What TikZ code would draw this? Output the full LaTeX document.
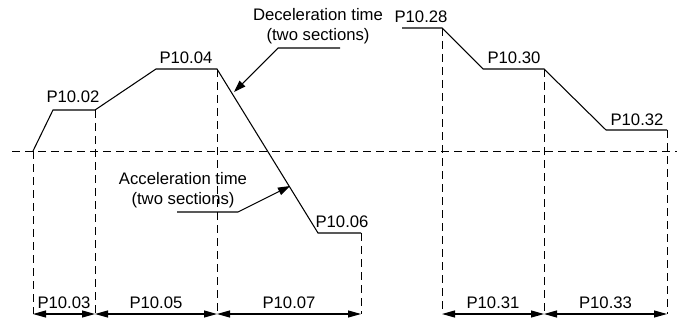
\documentclass[tikz,border=0pt]{standalone}
\usepackage{fontspec}
\setmainfont{Liberation Sans}
\usetikzlibrary{arrows.meta}
\tikzset{guide/.style={dash pattern=on 1.6mm off 1mm,line width=0.5pt},
  prof/.style={line width=0.6pt},
  dim/.style={{Triangle[length=2.6mm,width=1.4mm]}-{Triangle[length=2.6mm,width=1.4mm]},line width=0.6pt},
  lead/.style={-{Triangle[length=2.4mm,width=1.6mm]},line width=0.6pt},
  lbl/.style={inner sep=0pt,font=\fontsize{9.5}{11.5}\selectfont}}

\begin{document}
\begin{tikzpicture}[x=0.2mm,y=-0.2mm]
\useasboundingbox (0,0) rectangle (677,324);
% corners of the two speed profiles
\coordinate (s0) at (33,151);
\coordinate (s1) at (53,110);
\coordinate (s2) at (95,110);
\coordinate (s3) at (156,69);
\coordinate (s4) at (217,69);
\coordinate (s5) at (318,233);
\coordinate (s6) at (361,233);
\coordinate (r0) at (402,28);
\coordinate (r1) at (442,28);
\coordinate (r2) at (483,69);
\coordinate (r3) at (544,69);
\coordinate (r4) at (606,130);
\coordinate (r5) at (667,130);
\coordinate (z0) at (12,151);
\coordinate (z1) at (677,151);
\draw[guide] (z0) -- (z1);
\draw[prof] (s0)--(s1)--(s2)--(s3)--(s4)--(s5)--(s6);
\draw[prof] (r0)--(r1)--(r2)--(r3)--(r4)--(r5);
% vertical guides down to the time arrows
\foreach \p in {s0,s2,s4,s6,r1,r3,r5}{\coordinate (\p b) at (\p |- 0,314);
  \draw[guide] (\p) -- (\p b);}
\foreach \p/\q/\n/\t in {s0/s2/t03/P10.03,s2/s4/t05/P10.05,s4/s6/t07/P10.07,r1/r3/t31/P10.31,r3/r5/t33/P10.33}
  {\draw[dim] (\p b) -- node[lbl,above=1mm] (\n) {\t} (\q b);}
% level labels
\node[lbl] (l02) at (73,97) {P10.02};
\node[lbl] (l04) at (186,58) {P10.04};
\node[lbl] (l06) at (342,222) {P10.06};
\node[lbl] (l28) at (421,17) {P10.28};
\node[lbl] (l30) at (514,58) {P10.30};
\node[lbl] (l32) at (637,120) {P10.32};
% time notes
\node[lbl,align=center] (dec) at (318,26) {Deceleration time\\(two sections)};
\node[lbl,align=center] (acc) at (183,190) {Acceleration time\\(two sections)};
\coordinate (decU) at (340,48);
\coordinate (decK) at (278,48);
\coordinate (decT) at (234,92);
\coordinate (accU) at (177,212);
\coordinate (accK) at (238,212);
\coordinate (accT) at (290,186);
\draw[lead] (decU) -- (decK) -- (decT);
\draw[lead] (accU) -- (accK) -- (accT);
\end{tikzpicture}
\end{document}
